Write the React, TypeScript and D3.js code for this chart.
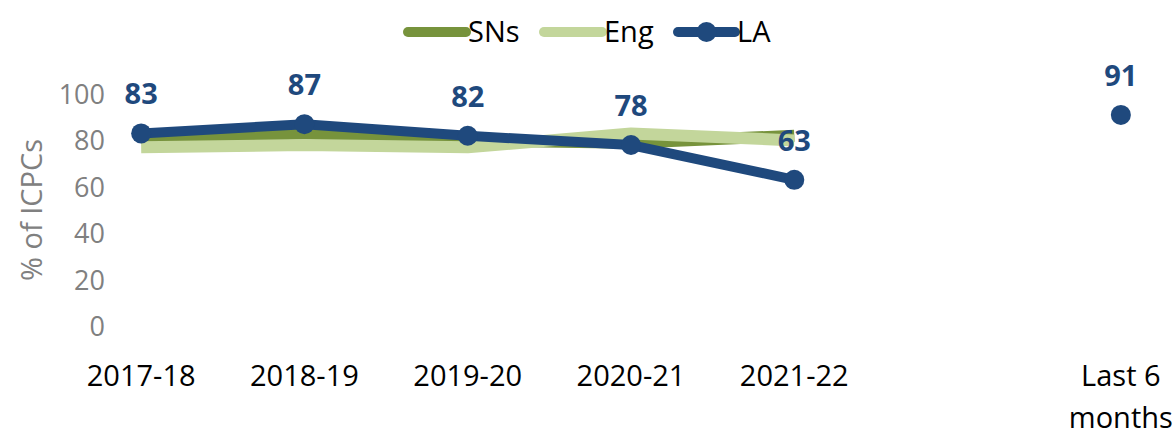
import React from "react";
import * as d3 from "d3";

const categories = ["2017-18", "2018-19", "2019-20", "2020-21", "2021-22", "", "Last 6 months"];
const lineCategories = ["2017-18", "2018-19", "2019-20", "2020-21", "2021-22"];
const snsValues = [81, 83, 80, 79, 82];
const engValues = [77, 78, 77, 83, 80];
const laValues = [83, 87, 82, 78, 63];
const laLast = 91;
const yTicks = [0, 20, 40, 60, 80, 100];

const W = 1175;
const H = 431;
const FONT = "'Open Sans', 'Noto Sans', sans-serif";
const C_SNS = "#77933c";
const C_ENG = "#c3d69b";
const C_LA = "#1f497d";

export default function App() {
  const x = d3.scaleBand<string>().domain(categories).range([59.5, 1202.5]);
  const cx = (c: string) => (x(c) as number) + x.bandwidth() / 2;
  const y = d3.scaleLinear().domain([0, 100]).range([326, 94]);

  const line = d3
    .line<number>()
    .x((_, i) => cx(lineCategories[i]))
    .y((d) => y(d));

  const laPoints = lineCategories.map((c, i) => ({ c, v: laValues[i] }));
  laPoints.push({ c: "Last 6 months", v: laLast });

  return (
    <svg
      width={W}
      height={H}
      style={{ position: "absolute", left: 0, top: 0, background: "#fff" }}
      fontFamily={FONT}
    >
      {/* legend */}
      <g>
        <line x1={408} x2={466} y1={32} y2={32} stroke={C_SNS} strokeWidth={10} strokeLinecap="round" />
        <text x={468} y={42} fontSize={29} fill="#000">SNs</text>
        <line x1={544} x2={602} y1={32} y2={32} stroke={C_ENG} strokeWidth={10} strokeLinecap="round" />
        <text x={604} y={42} fontSize={29} fill="#000">Eng</text>
        <line x1={678} x2={735} y1={32} y2={32} stroke={C_LA} strokeWidth={10} strokeLinecap="round" />
        <circle cx={706.5} cy={32} r={10} fill={C_LA} />
        <text x={737} y={42} fontSize={29} fill="#000">LA</text>
      </g>

      {/* y axis ticks */}
      {yTicks.map((t) => (
        <text key={t} x={105} y={y(t) + 10} textAnchor="end" fontSize={27} fill="#808080">
          {t}
        </text>
      ))}
      <text
        transform={`translate(42,${y(50)}) rotate(-90)`}
        textAnchor="middle"
        fontSize={29}
        fill="#808080"
      >
        % of ICPCs
      </text>

      {/* x labels */}
      {categories.map((c) => {
        if (!c) return null;
        const parts = c === "Last 6 months" ? ["Last 6", "months"] : [c];
        return (
          <text key={c} x={cx(c)} y={386} textAnchor="middle" fontSize={29} fill="#000">
            {parts.map((p, i) => (
              <tspan key={i} x={cx(c)} dy={i === 0 ? 0 : 42}>
                {p}
              </tspan>
            ))}
          </text>
        );
      })}

      {/* lines */}
      <path d={line(snsValues) || ""} fill="none" stroke={C_SNS} strokeWidth={12} strokeLinejoin="round" />
      <path d={line(engValues) || ""} fill="none" stroke={C_ENG} strokeWidth={12} strokeLinejoin="round" />
      <path d={line(laValues) || ""} fill="none" stroke={C_LA} strokeWidth={10} strokeLinejoin="round" />
      {laPoints.map((p) => (
        <circle key={p.c} cx={cx(p.c)} cy={y(p.v)} r={10} fill={C_LA} />
      ))}
      {laPoints.map((p) => (
        <text
          key={"l" + p.c}
          x={cx(p.c)}
          y={y(p.v) - 29}
          textAnchor="middle"
          fontSize={29}
          fontWeight="bold"
          fill={C_LA}
        >
          {p.v}
        </text>
      ))}
    </svg>
  );
}
